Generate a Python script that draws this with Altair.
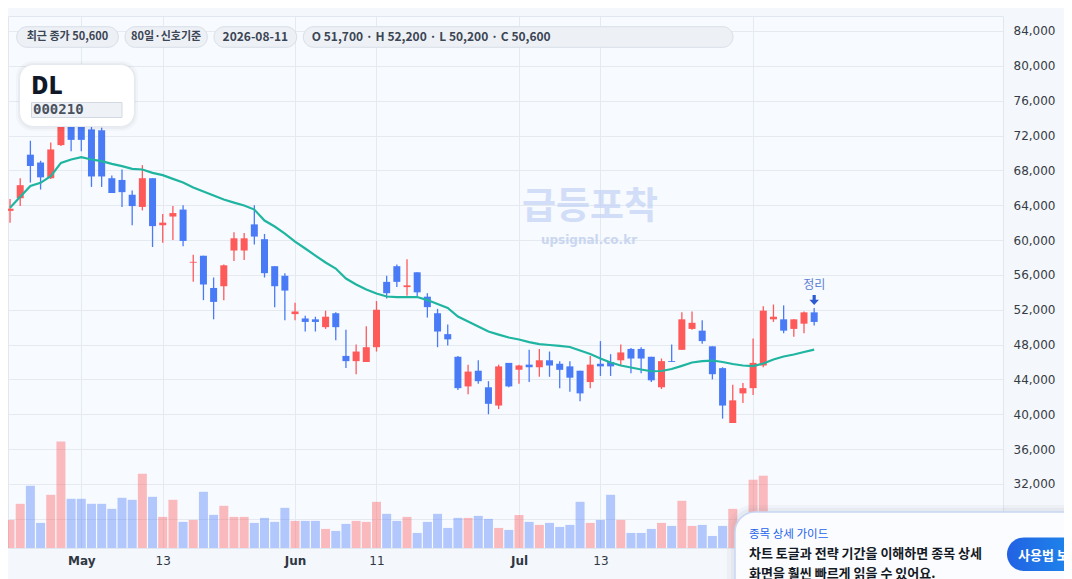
import altair as alt
import pandas as pd

# ---------------- data ----------------
start_date = "2026-04-22"
end_date = "2026-08-11"
dates = [d.strftime("%Y-%m-%d") for d in pd.bdate_range(start_date, end_date)]

opens = [63350, 64800, 69800, 68900, 67100, 70900, 73800, 73400, 72700, 72600,
         67100, 66900, 65200, 63800, 67100, 61700, 62700, 63500, 57400, 58200,
         54500, 54700, 58800, 58800, 61800, 60100, 57000, 55900, 51500, 51000,
         50900, 50000, 51600, 46700, 46100, 46000, 47700, 55200, 57000, 54600,
         56300, 53500, 51600, 49200, 46600, 43200, 45000, 43100, 41000, 45900,
         45100, 45700, 45400, 46200, 45800, 45500, 45000, 43700, 45800, 46000,
         46200, 47500, 47500, 46600, 43100, 46100, 47400, 49800, 49600, 47800,
         45300, 39000, 42400, 43000, 45600, 50900, 50900, 49800, 50400, 51700]
highs = [64700, 67100, 71400, 69100, 71200, 74300, 74800, 74500, 73200, 72900,
         67400, 68100, 65700, 68600, 67100, 63000, 63900, 64000, 58300, 58200,
         55700, 57200, 60900, 60800, 64000, 60700, 57000, 56200, 52800, 51300,
         51200, 51900, 51700, 49700, 48000, 50100, 53000, 55900, 57200, 57800,
         56300, 53900, 52100, 50300, 46700, 45700, 46200, 43800, 45700, 45900,
         45700, 47400, 47500, 47200, 46100, 46100, 45000, 46700, 48400, 46900,
         48000, 47600, 47700, 46600, 46400, 48000, 51700, 51800, 50800, 47800,
         45400, 43400, 43600, 48700, 52400, 52600, 52500, 50900, 51800, 52200]
lows = [62000, 63900, 66600, 65800, 67000, 70800, 70200, 70200, 66100, 66100,
        65400, 63800, 61700, 63400, 59200, 59700, 60000, 59300, 55200, 53100,
        50900, 53100, 57600, 57700, 59500, 55700, 52300, 50800, 50800, 49500,
        49500, 49800, 48500, 45300, 44600, 46000, 47200, 53300, 54600, 53600,
        53500, 51100, 47700, 47900, 42800, 42300, 43500, 40000, 40600, 43100,
        43500, 43700, 44300, 44300, 43000, 42600, 41500, 43000, 44400, 44400,
        45600, 44700, 44700, 43700, 42900, 46000, 47400, 49700, 48100, 44000,
        39500, 39000, 41300, 42200, 45400, 50600, 49300, 48900, 49300, 50200]
closes = [63600, 66300, 68500, 67200, 70400, 73500, 71500, 71500, 67300, 67300,
          65400, 65500, 63900, 67100, 61600, 62000, 63100, 59900, 57500, 54900,
          52900, 57100, 60200, 60200, 60400, 56200, 54700, 54200, 51800, 50600,
          50600, 51200, 50000, 46100, 47200, 47700, 52000, 53900, 55200, 54800,
          54000, 52300, 49500, 48600, 43000, 44900, 43800, 41200, 45500, 43200,
          45600, 45400, 46200, 45600, 45100, 44200, 42400, 45700, 45500, 45500,
          47100, 46400, 46400, 43900, 46100, 46000, 50900, 50500, 48400, 44600,
          41000, 41600, 43000, 45900, 51900, 51200, 49600, 50900, 51700, 50600]
volumes = [280, 440, 620, 250, 530, 1060, 490, 490, 440, 440,
           390, 500, 480, 740, 510, 310, 480, 260, 280, 560,
           330, 420, 310, 310, 250, 300, 260, 400, 270, 270,
           270, 190, 170, 240, 270, 260, 460, 340, 270, 310,
           150, 260, 340, 200, 300, 300, 320, 290, 200, 180,
           330, 260, 230, 250, 210, 230, 460, 250, 280, 530,
           280, 150, 150, 190, 250, 220, 470, 220, 230, 120,
           220, 390, 250, 680, 720, 300, 280, 220, 240, 260]
volumes = [v * 1000 for v in volumes]
ma20 = [63700, 64960, 66200, 66570, 67330, 68860, 69250, 69520, 69250, 69060,
        68750, 68480, 68170, 68100, 67710, 67450, 67020, 66600, 66030, 65570,
        65110, 64650, 64300, 63960, 63500, 62240, 61550, 60750, 59830, 59030,
        58220, 57420, 56730, 55580, 54890, 54320, 53860, 53520, 53460, 53460,
        53460, 53110, 52650, 52200, 51220, 50650, 50070, 49500, 49150, 48810,
        48580, 48290, 48060, 47950, 47860, 47720, 47320, 46920, 46400, 45940,
        45600, 45370, 45140, 44940, 44970, 45200, 45560, 45940, 46110, 46170,
        46000, 45770, 45600, 45540, 45830, 46290, 46630, 46860, 47150, 47430]

tick_dates = ["2026-05-01", "2026-05-13", "2026-06-01", "2026-06-11",
              "2026-07-01", "2026-07-13", "2026-08-03"]
tick_labels = ["May", "13", "Jun", "11", "Jul", "13", "Aug"]
price_ticks = [28000, 32000, 36000, 40000, 44000, 48000, 52000, 56000,
               60000, 64000, 68000, 72000, 76000, 80000, 84000]

ticker_name = "DL"
ticker_code = "000210"
header_texts = ["최근 종가 50,600", "80일·신호기준", "2026-08-11",
                "O 51,700 · H 52,200 · L 50,200 · C 50,600"]
signal_label = "정리"
watermark_texts = ["급등포착", "upsignal.co.kr"]
guide_texts = ["종목 상세 가이드", "차트 토글과 전략 기간을 이해하면 종목 상세",
               "화면을 훨씬 빠르게 읽을 수 있어요.", "사용법 보기"]

# ---------------- frame ----------------
RED = "#ff5a5a"
BLUE = "#4a7bf7"
TEAL = "#1fb5a0"
W, H = 995, 532
PRICE_DOMAIN = [24650, 85720]
KR = "Noto Sans CJK KR"

df = pd.DataFrame({"idx": list(range(len(dates))), "date": dates, "open": opens,
                   "high": highs, "low": lows, "close": closes, "vol": volumes,
                   "ma": ma20})
df["dir"] = ["up" if c >= o else "down" for o, c in zip(opens, closes)]

tick_idx = [dates.index(d) for d in tick_dates]
label_expr = " : ".join(f"datum.value == {i} ? '{t}'" for i, t in zip(tick_idx, tick_labels)) + " : ''"
month_test = " || ".join(f"datum.value == {i}" for i, t in zip(tick_idx, tick_labels) if t.isalpha())

X = alt.X("idx:Q", scale=alt.Scale(domain=[-0.2, 97.55], nice=False, zero=False, padding=0),
          axis=alt.Axis(values=tick_idx, labelExpr=label_expr, title=None, ticks=False,
                        labelPadding=7, labelFont="DejaVu Sans", labelFontSize=12,
                        labelColor="#2f3744", labelOverlap=False, labelFlush=False,
                        labelFontWeight={"condition": {"test": month_test, "value": "bold"},
                                         "value": "normal"},
                        grid=True, gridColor="#e5eaf1", domainColor="#e1e7ef"))

price_scale = alt.Scale(domain=PRICE_DOMAIN, nice=False, zero=False, padding=0)
price_axis = alt.Axis(orient="right", values=price_ticks, format=",d", title=None,
                      ticks=False, labelPadding=10, labelFont="DejaVu Sans",
                      labelFontSize=12, labelColor="#363c45", labelFlush=False,
                      grid=True, gridColor="#e5eaf1", domainColor="#e1e7ef")
color = alt.Color("dir:N", scale=alt.Scale(domain=["up", "down"], range=[RED, BLUE]), legend=None)

base = alt.Chart(df)

volume = base.mark_bar(size=9, opacity=0.4).encode(
    x=X, y=alt.Y("vol:Q", scale=alt.Scale(domain=[0, max(volumes) * 5], nice=False, padding=0),
                 axis=None),
    color=color)
wicks = base.mark_rule(strokeWidth=1.3).encode(
    x=X, y=alt.Y("low:Q", scale=price_scale, axis=None), y2="high:Q", color=color)
bodies = base.mark_bar(size=7).encode(
    x=X, y=alt.Y("open:Q", scale=price_scale, axis=price_axis), y2="close:Q", color=color)
ma_line = base.mark_line(color=TEAL, strokeWidth=2.2).encode(
    x=X, y=alt.Y("ma:Q", scale=price_scale, axis=None))

last = alt.Chart(df.tail(1).assign(label=signal_label))
arrow_path = "M-0.32,-1 L0.32,-1 L0.32,-0.05 L0.95,-0.05 L0,1 L-0.95,-0.05 L-0.32,-0.05 Z"
sig_arrow = last.mark_point(shape=arrow_path, size=100, filled=True, opacity=1,
                            color="#2d5bd1", yOffset=-8).encode(
    x=X, y=alt.Y("high:Q", scale=price_scale, axis=None))
sig_text = last.mark_text(dy=-23, fontSize=12, font=KR, color="#5b7fd6").encode(
    x=X, y=alt.Y("high:Q", scale=price_scale, axis=None), text="label:N")

one = pd.DataFrame({"k": [0]})


def px(p):
    return p - 8


def py(p):
    return p - 16


def rect(x1, y1, x2, y2, **kw):
    return alt.Chart(one).mark_rect(**kw).encode(
        x=alt.value(px(x1)), x2=alt.value(px(x2)), y=alt.value(py(y1)), y2=alt.value(py(y2)))


def text(s, x, y, **kw):
    return alt.Chart(one).mark_text(text=s, **kw).encode(x=alt.value(px(x)), y=alt.value(py(y)))


deco = []
# watermark
deco.append(text(watermark_texts[0], 590, 208, font=KR, fontSize=37, fontWeight="bold",
                 color="#c3d3f5", opacity=0.7))
deco.append(text(watermark_texts[1], 589, 240, font="DejaVu Sans", fontSize=12,
                 fontWeight="bold", color="#c3d1ee", opacity=0.85))

layers_mid = [volume, wicks, bodies, ma_line, sig_arrow, sig_text]

top = []
# ticker box
top.append(rect(16, 61, 138, 131, fill="#000000", opacity=0.025, cornerRadius=16))
top.append(rect(18, 63, 136, 129, fill="#000000", opacity=0.03, cornerRadius=15))
top.append(rect(19.5, 64.5, 134.5, 126.5, fill="#ffffff", stroke="#e6eaf0", strokeWidth=1,
                cornerRadius=14))
top.append(text(ticker_name, 31, 87, align="left", font=KR, fontSize=24, fontWeight=900,
                color="#111827"))
top.append(rect(31.5, 102.5, 122, 117.5, fill="#eef1f5", stroke="#d3d9e2", strokeWidth=1))
top.append(text(ticker_code, 33, 110, align="left", font="DejaVu Sans Mono", fontSize=14,
                fontWeight="bold", color="#4a5260"))

# header pills
pills = [(16.7, 118.3), (125, 207.3), (214, 296.7), (303.3, 733)]
pill_sizes = [11, 11, 12, 12]
for i, ((a, b), s) in enumerate(zip(pills, header_texts)):
    top.append(rect(a, 26.7, b, 47.3, fill="#edf1f6", stroke="#d9dfe8", strokeWidth=1,
                    cornerRadius=10.3))
    if i < 3:
        top.append(text(s, (a + b) / 2, 37.3, align="center", font=KR, fontSize=pill_sizes[i],
                        fontWeight="bold", color="#3b4554"))
    else:
        top.append(text(s, a + 8.5, 37.3, align="left", font=KR, fontSize=pill_sizes[i],
                        fontWeight="bold", color="#3b4554"))

# guide popup
top.append(rect(727, 505, 1100, 620, fill="#64748b", opacity=0.05, cornerRadius=26))
top.append(rect(731, 508, 1100, 620, fill="#64748b", opacity=0.06, cornerRadius=23))
top.append(rect(735, 512, 1100, 620, fill="#fbfcff", stroke="#c7d6f4", strokeWidth=1.5,
                cornerRadius=20))
top.append(text(guide_texts[0], 749, 535, align="left", font=KR, fontSize=11.5,
                color="#2563eb"))
top.append(text(guide_texts[1], 749, 554, align="left", font=KR, fontSize=13,
                fontWeight="bold", color="#141a24"))
top.append(text(guide_texts[2], 749, 573.5, align="left", font=KR, fontSize=13,
                fontWeight="bold", color="#141a24"))
grad = alt.Gradient(gradient="linear",
                    stops=[alt.GradientStop(color="#2262e3", offset=0),
                           alt.GradientStop(color="#1aa0f2", offset=1)],
                    x1=0, x2=1, y1=0, y2=0)
top.append(rect(1007, 537.5, 1120, 571, color=grad, cornerRadius=17))
top.append(text(guide_texts[3], 1018, 555.5, align="left", font=KR, fontSize=13,
                fontWeight="bold", color="#ffffff"))

chart = alt.layer(*deco, *layers_mid, *top).resolve_scale(y="independent").properties(
    width=W, height=H,
    autosize=alt.AutoSizeParams(type="none"),
    padding={"left": 0, "top": 8, "right": 61, "bottom": 31},
    background="#f4f7fb",
).configure_view(fill="#f7faff", stroke="#e1e7ef")

chart.save("out.html", embed_options={"renderer": "svg", "actions": False})
